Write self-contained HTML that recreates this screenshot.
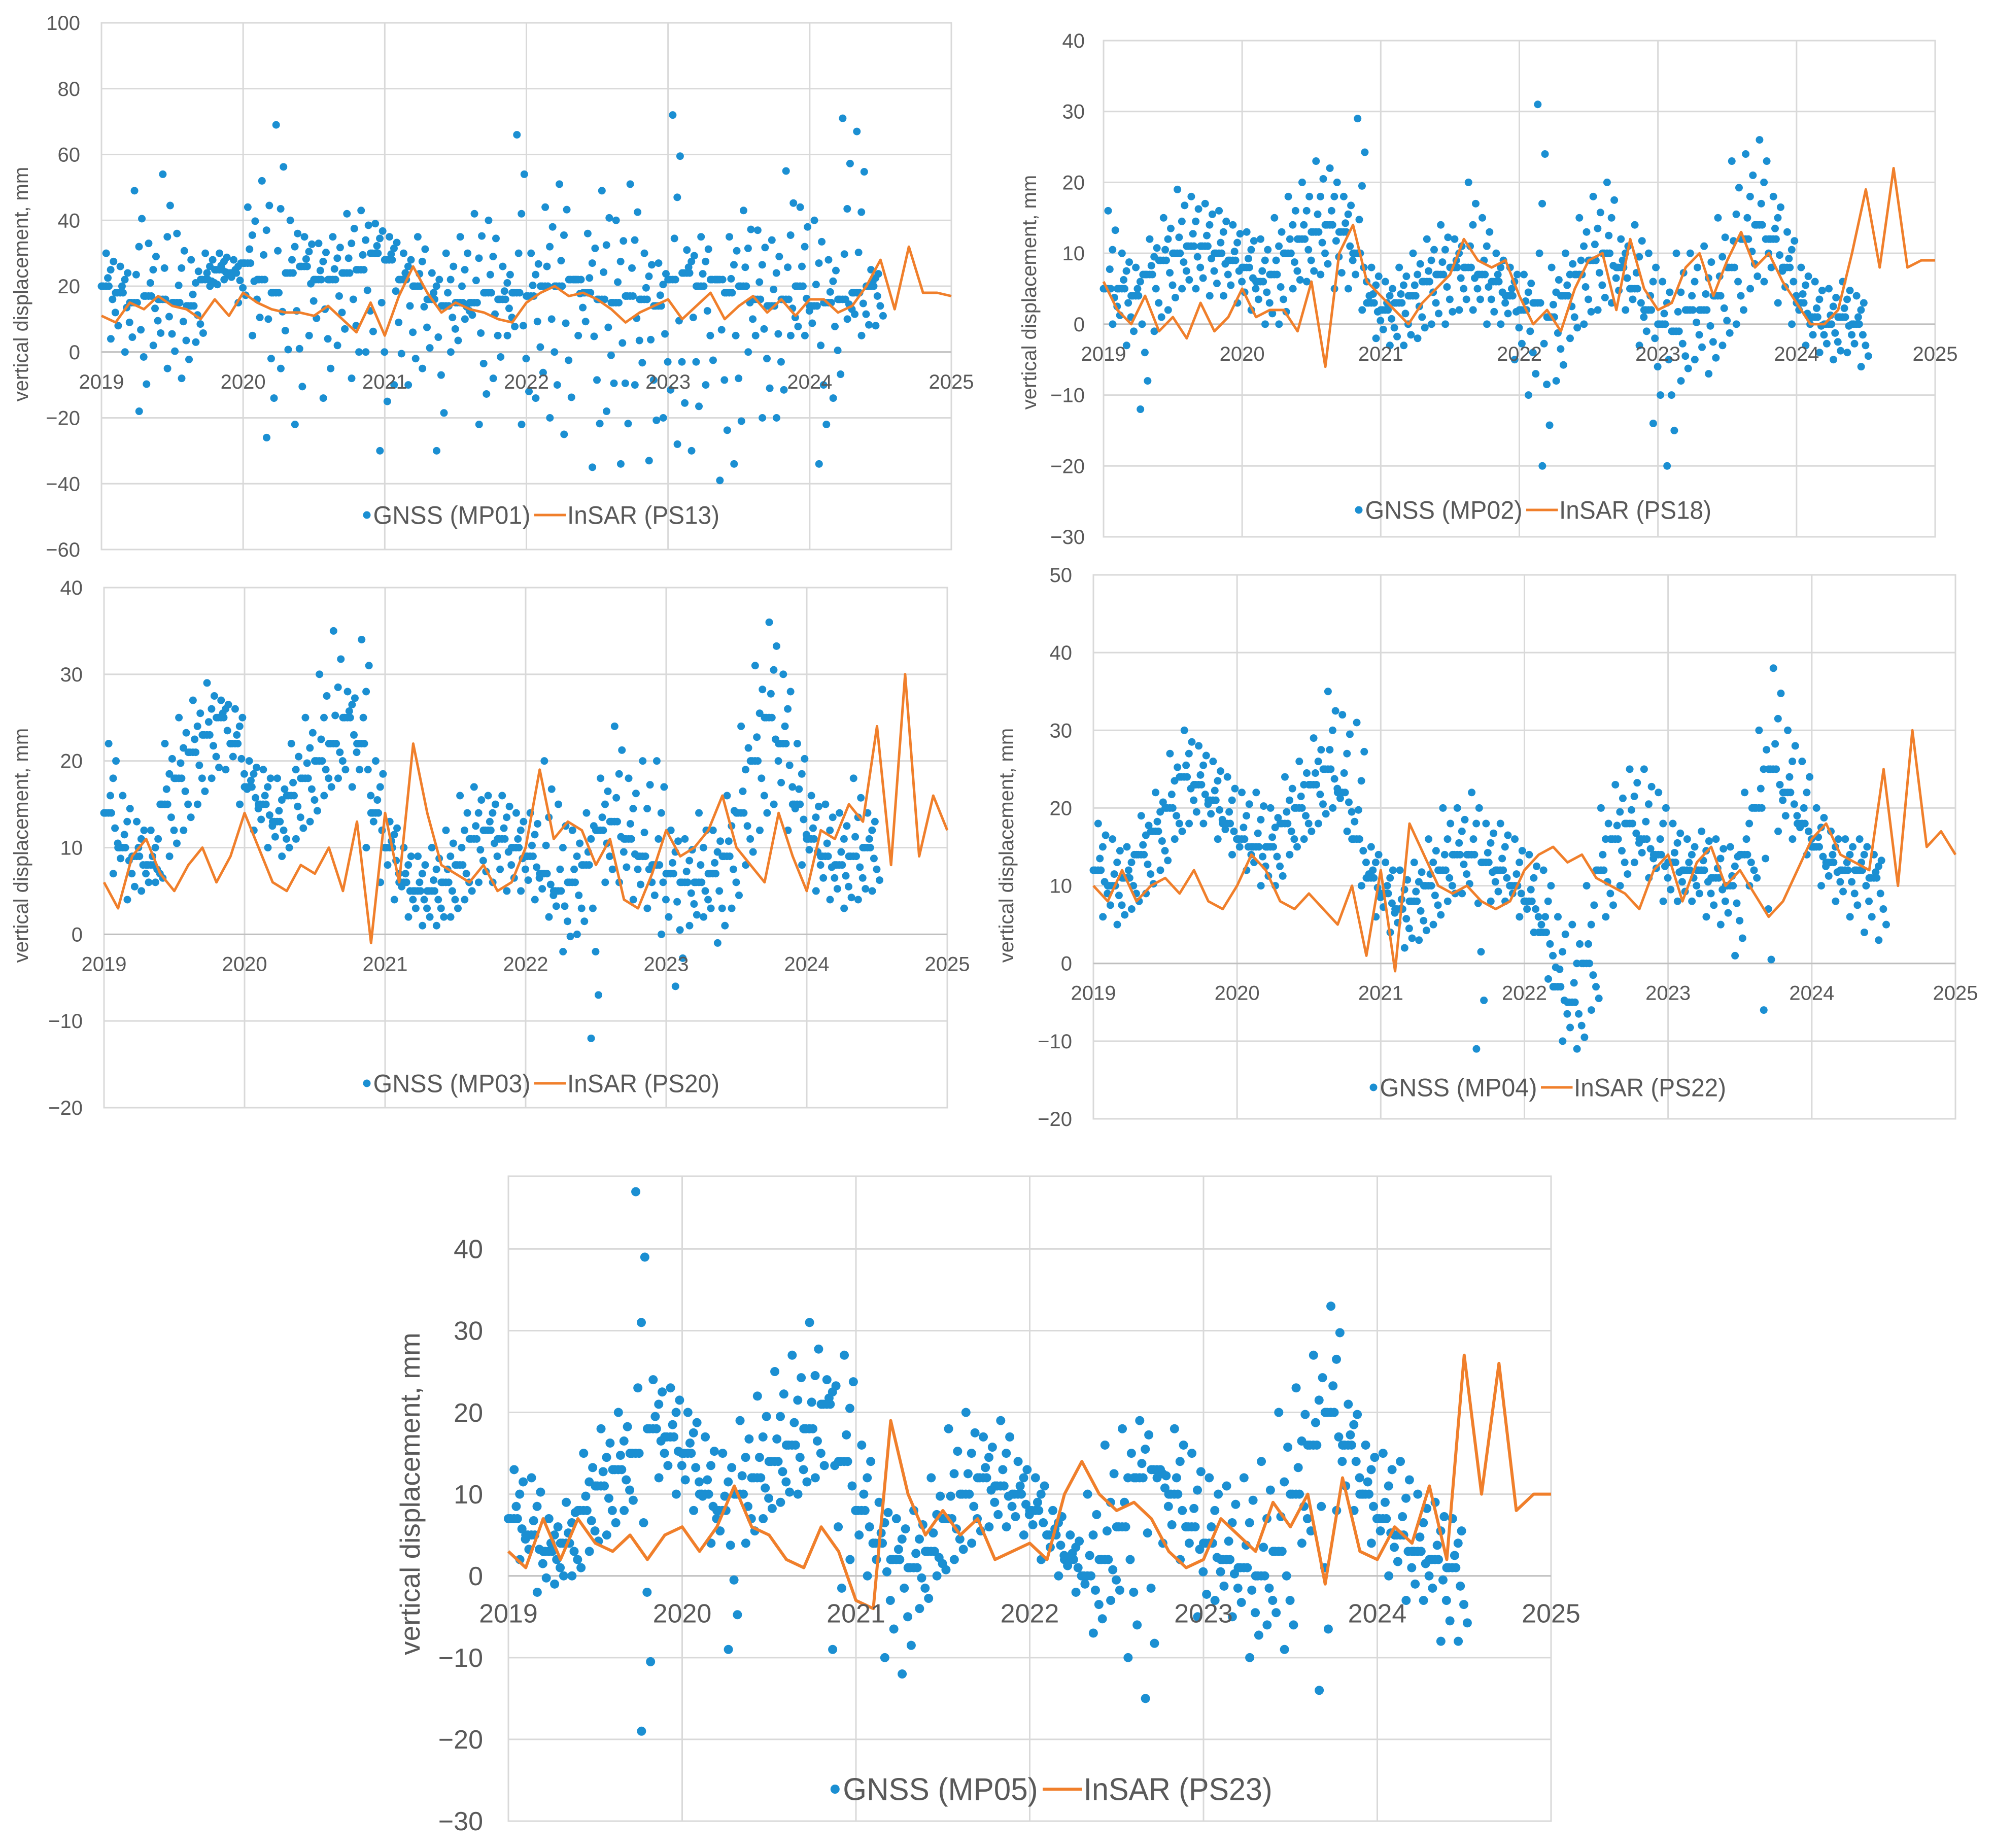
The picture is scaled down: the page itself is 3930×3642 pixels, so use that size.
<!DOCTYPE html>
<html><head><meta charset="utf-8">
<style>
html,body{margin:0;padding:0;background:#fff;}
svg{display:block;font-family:"Liberation Sans Narrow","Liberation Sans",sans-serif;}
</style></head>
<body>
<svg id="fig" width="3930" height="3642" viewBox="0 0 3930 3642" xmlns="http://www.w3.org/2000/svg"></svg>
<script>
// Shared time categories
const gnssTimes = [2019.0,2019.1,2019.2,2019.3,2019.4,2019.5,2019.6,2019.7,2019.8,2019.9,
2020.0,2020.1,2020.2,2020.3,2020.4,2020.5,2020.6,2020.7,2020.8,2020.9,
2021.0,2021.1,2021.2,2021.3,2021.4,2021.5,2021.6,2021.7,2021.8,2021.9,
2022.0,2022.1,2022.2,2022.3,2022.4,2022.5,2022.6,2022.7,2022.8,2022.9,
2023.0,2023.1,2023.2,2023.3,2023.4,2023.5,2023.6,2023.7,2023.8,2023.9,
2024.0,2024.1,2024.2,2024.3,2024.4];
const insarTimes = [2019.0,2019.1,2019.2,2019.3,2019.4,2019.5,2019.6,2019.7,2019.8,2019.9,
2020.0,2020.1,2020.2,2020.3,2020.4,2020.5,2020.6,2020.7,2020.8,2020.9,
2021.0,2021.1,2021.2,2021.3,2021.4,2021.5,2021.6,2021.7,2021.8,2021.9,
2022.0,2022.1,2022.2,2022.3,2022.4,2022.5,2022.6,2022.7,2022.8,2022.9,
2023.0,2023.1,2023.2,2023.3,2023.4,2023.5,2023.6,2023.7,2023.8,2023.9,
2024.0,2024.1,2024.2,2024.3,2024.4,2024.5,2024.6,2024.7,2024.8,2024.9,2025.0];
const xTickLabels = ["2019","2020","2021","2022","2023","2024","2025"];

// Chart 1 MP01 / PS13
const mp01Mid = [20,18,15,17,16,15,14,22,25,24, 27,22,18,24,26,22,22,24,25,30, 28,22,20,16,14,15,15,18,16,18, 17,20,20,22,18,16,15,17,16,14, 22,24,20,22,18,20,16,14,16,20, 14,15,16,18,20];
const mp01Hi = [30,26,49,33,54,36,28,30,30,28, 44,52,69,40,35,33,35,42,43,39, 35,30,35,24,30,35,42,40,26,66, 30,44,51,22,36,49,40,51,30,27, 72,31,35,22,35,43,37,34,55,44, 40,28,71,67,25];
const mp01Lo = [4,0,-18,2,-5,-8,3,20,22,15, 5,-26,-5,-22,5,-14,2,-8,0,-30, -10,-10,-5,-30,0,10,-22,-8,5,-22, -14,-20,-25,5,-35,-18,-34,-10,-33,-20, -28,-30,-10,-39,-34,0,-20,-20,5,5, -34,-14,10,5,8];
const ps13 = [11,9,15,13,17,14,13,10,16,11, 18,15,13,12,12,11,14,10,6,15, 5,17,26,18,12,15,13,12,10,9, 15,18,20,17,18,16,13,9,12,14, 16,10,14,18,10,14,17,12,16,11, 16,16,12,14,20,28,13,32,18,18,17];
const yTicks1 = [-60,-40,-20,0,20,40,60,80,100];

// Chart 2 MP02 / PS18
const mp02Mid = [5,5,4,7,9,10,11,11,10,9, 8,6,7,10,12,13,14,13,10,3, 2,3,4,6,7,8,8,7,6,4, 2,3,1,4,7,9,10,8,5,2, 0,-1,2,2,4,8,12,14,12,8, 3,1,0,1,0];
const mp02Hi = [16,10,8,12,15,19,18,17,16,14, 13,12,15,18,20,23,22,18,29,8, 6,8,10,12,14,12,20,15,10,8, 7,31,8,10,15,18,20,12,14,10, 6,10,10,11,15,23,24,26,18,13, 8,6,5,6,4];
const mp02Lo = [0,-3,-12,-1,2,5,5,4,4,3, 2,0,0,5,6,7,5,5,2,-2, -3,-3,-2,0,0,2,2,0,0,-5, -10,-20,-8,-2,0,2,3,2,-3,-14, -20,-8,-5,-7,-3,0,5,6,3,0, -3,-4,-5,-4,-6];
const ps18 = [6,2,0,4,-1,1,-2,3,-1,1, 5,1,2,2,-1,6,-6,10,14,6, 4,2,0,3,5,7,12,9,8,9, 4,0,2,-1,5,9,10,2,12,5, 2,3,8,10,4,9,13,8,10,6, 3,0,0,2,10,19,8,22,8,9,9];
const yTicks2 = [-30,-20,-10,0,10,20,30,40];

// Chart 3 MP03 / PS20
const mp03Mid = [14,10,9,8,15,18,21,23,25,22, 17,15,13,16,18,20,22,25,22,14, 10,6,5,5,6,8,11,12,11,10, 9,7,5,6,8,12,13,11,9,8, 7,6,6,7,9,14,20,25,22,15, 11,9,8,9,10];
const mp03Hi = [22,16,13,12,22,25,27,29,27,26, 20,19,18,22,25,30,35,28,34,20, 13,10,9,10,12,16,17,16,16,14, 14,20,15,12,14,18,24,18,20,20, 12,11,14,12,16,24,31,36,30,22, 16,15,14,18,14];
const mp03Lo = [7,4,5,6,9,12,15,18,19,15, 12,10,9,11,13,16,18,17,10,6, 4,2,1,1,2,4,6,6,5,5, 4,2,-2,0,-12,6,6,4,3,0, -6,1,2,-1,3,8,12,15,12,8, 5,4,3,4,5];
const ps20 = [6,3,9,11,7,5,8,10,6,9, 14,10,6,5,8,7,10,5,13,-1, 14,6,22,14,8,7,6,8,5,6, 10,19,11,13,12,8,11,4,3,7, 12,9,10,12,16,10,8,6,14,9, 5,12,11,15,13,24,8,30,9,16,12];
const yTicks3 = [-20,-10,0,10,20,30,40];

// Chart 4 MP04 / PS22
const mp04Mid = [12,10,11,14,17,20,24,23,21,18, 16,15,15,18,20,23,25,22,16,11, 9,7,8,10,12,14,14,13,12,10, 8,4,-3,-5,0,12,16,18,16,14, 13,12,12,11,10,14,20,25,22,18, 15,13,12,12,11];
const mp04Hi = [18,16,15,19,22,27,30,28,26,24, 22,22,20,24,26,29,35,32,31,15, 13,12,13,16,20,20,22,18,18,16, 14,12,6,5,10,20,23,25,25,22, 18,16,17,16,15,22,30,38,30,26, 20,17,16,16,14];
const mp04Lo = [6,5,7,9,12,16,18,18,16,14, 12,10,10,14,16,18,20,17,10,6, 4,2,3,5,8,9,-11,8,8,6, 4,-2,-10,-11,-6,6,10,13,11,8, 8,8,6,5,1,10,-6,17,16,14, 10,8,6,4,3];
const ps22 = [10,8,12,8,10,11,9,12,8,7, 10,14,12,8,7,9,7,5,10,1, 12,-1,18,14,10,9,10,8,7,8, 12,14,15,13,14,11,10,9,7,12, 14,8,13,15,10,12,9,6,8,12, 16,18,14,13,12,25,10,30,15,17,14];
const yTicks4 = [-20,-10,0,10,20,30,40,50];

// Chart 5 MP05 / PS23
const mp05Mid = [7,5,3,4,8,11,13,15,18,17, 15,10,8,10,12,14,16,18,21,14, 8,4,2,1,3,7,10,12,11,10, 8,5,2,0,2,6,12,13,10,6, 4,2,1,0,3,10,16,20,16,10, 7,5,3,2,1];
const mp05Hi = [13,12,7,9,15,18,20,47,24,23, 20,17,15,19,22,25,27,31,24,27, 16,9,7,8,12,18,20,17,19,14, 12,8,5,10,16,18,19,12,18,15, 12,11,12,14,20,23,27,33,21,16, 15,14,10,9,7];
const mp05Lo = [2,-2,-1,0,3,5,8,-19,12,10, 8,4,-9,4,7,9,10,12,-9,2, 0,-10,-12,-4,0,2,4,6,6,5, 2,0,-2,-7,-3,-10,-15,4,2,-5, -3,-5,-10,-6,-9,4,-14,8,8,4, 0,-3,-3,-8,-8];
const ps23 = [3,1,7,2,7,4,3,5,2,5, 6,3,6,11,6,5,2,1,6,3, -3,-4,19,10,5,8,5,7,2,3, 4,2,10,14,10,8,9,7,3,1, 2,7,5,3,9,6,10,-1,12,3, 2,6,4,11,2,27,10,26,8,10,10];
const yTicks5 = [-30,-20,-10,0,10,20,30,40];

const NS = "http://www.w3.org/2000/svg";
const svg = document.getElementById('fig');
function mk(tag, attrs, parent){
  const e = document.createElementNS(NS, tag);
  for (const k in attrs) e.setAttribute(k, attrs[k]);
  (parent||svg).appendChild(e);
  return e;
}

function chart(cfg){
  const g = mk('g', {});
  
  
  const X = t => cfg.x0 + (t-2019)/6*(cfg.x1-cfg.x0);
  const Y = v => cfg.y1 - (v-cfg.ymin)/(cfg.ymax-cfg.ymin)*(cfg.y1-cfg.y0);
  cfg.yTicks.forEach(v=>{
    const l = mk('line',{x1:cfg.x0,x2:cfg.x1,y1:Y(v),y2:Y(v),stroke:'#d9d9d9','stroke-width':3},g);
    
    
    const t = mk('text',{x:cfg.labX,y:Y(v)+cfg.fs*0.35,'text-anchor':'end','font-size':cfg.fs,fill:'#595959'},g);
    t.textContent = (v<0?'\u2212'+(-v):String(v));
    
    
  });
  xTickLabels.forEach((s,i)=>{
    const yr = 2019+i;
    const l = mk('line',{x1:X(yr),x2:X(yr),y1:cfg.y0,y2:cfg.y1,stroke:'#d9d9d9','stroke-width':3},g);
    
    
  });
  mk('rect',{x:cfg.x0,y:cfg.y0,width:cfg.x1-cfg.x0,height:cfg.y1-cfg.y0,fill:'none',stroke:'#d9d9d9','stroke-width':3},g);
  mk('line',{x1:cfg.x0,x2:cfg.x1,y1:Y(0),y2:Y(0),stroke:'#bfbfbf','stroke-width':3},g);
  const dg = mk('g',{fill:'#1b8fd2'},g);
  
  
  [[cfg.mid,0.0],[cfg.hi,0.033],[cfg.lo,0.066]].forEach(([arr,off])=>{
    arr.forEach((v,i)=>{
      const c = mk('circle',{cx:X(gnssTimes[i]+off),cy:Y(v),r:cfg.r},dg);
      
      
    });
    [0.25,0.5,0.75].forEach((fr,k)=>{
      arr.forEach((v,i)=>{
        const c = mk('circle',{cx:X(gnssTimes[i]+off+0.012+k*0.02),cy:Y(cfg.mid[i]+(v-cfg.mid[i])*fr),r:cfg.r},dg);
        
        
      });
    });
  });
  const d = cfg.ins.map((v,i)=>(i?'L':'M')+X(insarTimes[i]).toFixed(1)+','+Y(v).toFixed(1)).join(' ');
  const p = mk('path',{d:d,fill:'none',stroke:'#f07f2b','stroke-width':cfg.lw,'stroke-linejoin':'round'},g);
  
  
  xTickLabels.forEach((s,i)=>{
    const t = mk('text',{x:X(2019+i),y:Y(0)+cfg.xlOff,'text-anchor':'middle','font-size':cfg.fs,fill:'#595959'},g);
    t.textContent = s;
    
    
  });
  const yt = mk('text',{x:cfg.ytX,y:cfg.ytY,'text-anchor':'middle','font-size':cfg.tfs,fill:'#595959',transform:`rotate(-90 ${cfg.ytX} ${cfg.ytY})`,'font-family':'"Liberation Sans",sans-serif'},g);
  yt.textContent = 'vertical displacement, mm';
  
  
  const lg = mk('g',{},g);
  
  
  const lx = cfg.legX, ly = cfg.legY, f = cfg.lfs;
  const gW = 6.2*f, iW = 6.0*f;
  mk('circle',{cx:lx-gW-0.4*f,cy:ly,r:cfg.r,fill:'#1b8fd2'},lg);
  const t1 = mk('text',{x:lx-gW-0.15*f,y:ly+f*0.35,'font-size':f,fill:'#595959',textLength:gW,lengthAdjust:'spacingAndGlyphs'},lg);
  t1.textContent = cfg.gLabel;
  
  
  mk('line',{x1:lx,x2:lx+1.25*f,y1:ly,y2:ly,stroke:'#f07f2b','stroke-width':cfg.lw},lg);
  const t2 = mk('text',{x:lx+1.3*f,y:ly+f*0.35,'font-size':f,fill:'#595959',textLength:iW,lengthAdjust:'spacingAndGlyphs'},lg);
  t2.textContent = cfg.iLabel;
  
  
}

chart({name:'chart-mp01',x0:200,x1:1875,y0:45,y1:1083,ymin:-60,ymax:100,yTicks:yTicks1,mid:mp01Mid,hi:mp01Hi,lo:mp01Lo,ins:ps13,
  labX:158,fs:40,xlOff:72,r:7.5,lw:5,tfs:40,ytX:55,ytY:560,legX:1053,legY:1015,lfs:50,gLabel:'GNSS (MP01)',iLabel:'InSAR (PS13)'});
chart({name:'chart-mp02',x0:2175,x1:3814,y0:80,y1:1058,ymin:-30,ymax:40,yTicks:yTicks2,mid:mp02Mid,hi:mp02Hi,lo:mp02Lo,ins:ps18,
  labX:2138,fs:40,xlOff:72,r:7.5,lw:5,tfs:40,ytX:2042,ytY:576,legX:3008,legY:1005,lfs:50,gLabel:'GNSS (MP02)',iLabel:'InSAR (PS18)'});
chart({name:'chart-mp03',x0:205,x1:1867,y0:1158,y1:2183,ymin:-20,ymax:40,yTicks:yTicks3,mid:mp03Mid,hi:mp03Hi,lo:mp03Lo,ins:ps20,
  labX:163,fs:40,xlOff:72,r:7.5,lw:5,tfs:40,ytX:55,ytY:1666,legX:1053,legY:2135,lfs:50,gLabel:'GNSS (MP03)',iLabel:'InSAR (PS20)'});
chart({name:'chart-mp04',x0:2155,x1:3854,y0:1133,y1:2205,ymin:-20,ymax:50,yTicks:yTicks4,mid:mp04Mid,hi:mp04Hi,lo:mp04Lo,ins:ps22,
  labX:2113,fs:40,xlOff:72,r:7.5,lw:5,tfs:40,ytX:1997,ytY:1666,legX:3037,legY:2143,lfs:50,gLabel:'GNSS (MP04)',iLabel:'InSAR (PS22)'});
chart({name:'chart-mp05',x0:1002,x1:3057,y0:2318,y1:3589,ymin:-30,ymax:48.9,yTicks:yTicks5,mid:mp05Mid,hi:mp05Hi,lo:mp05Lo,ins:ps23,
  labX:952,fs:52,xlOff:92,r:9,lw:6,tfs:55,ytX:827,ytY:2944,legX:2055,legY:3526,lfs:62,gLabel:'GNSS (MP05)',iLabel:'InSAR (PS23)'});
</script>
</body></html>
